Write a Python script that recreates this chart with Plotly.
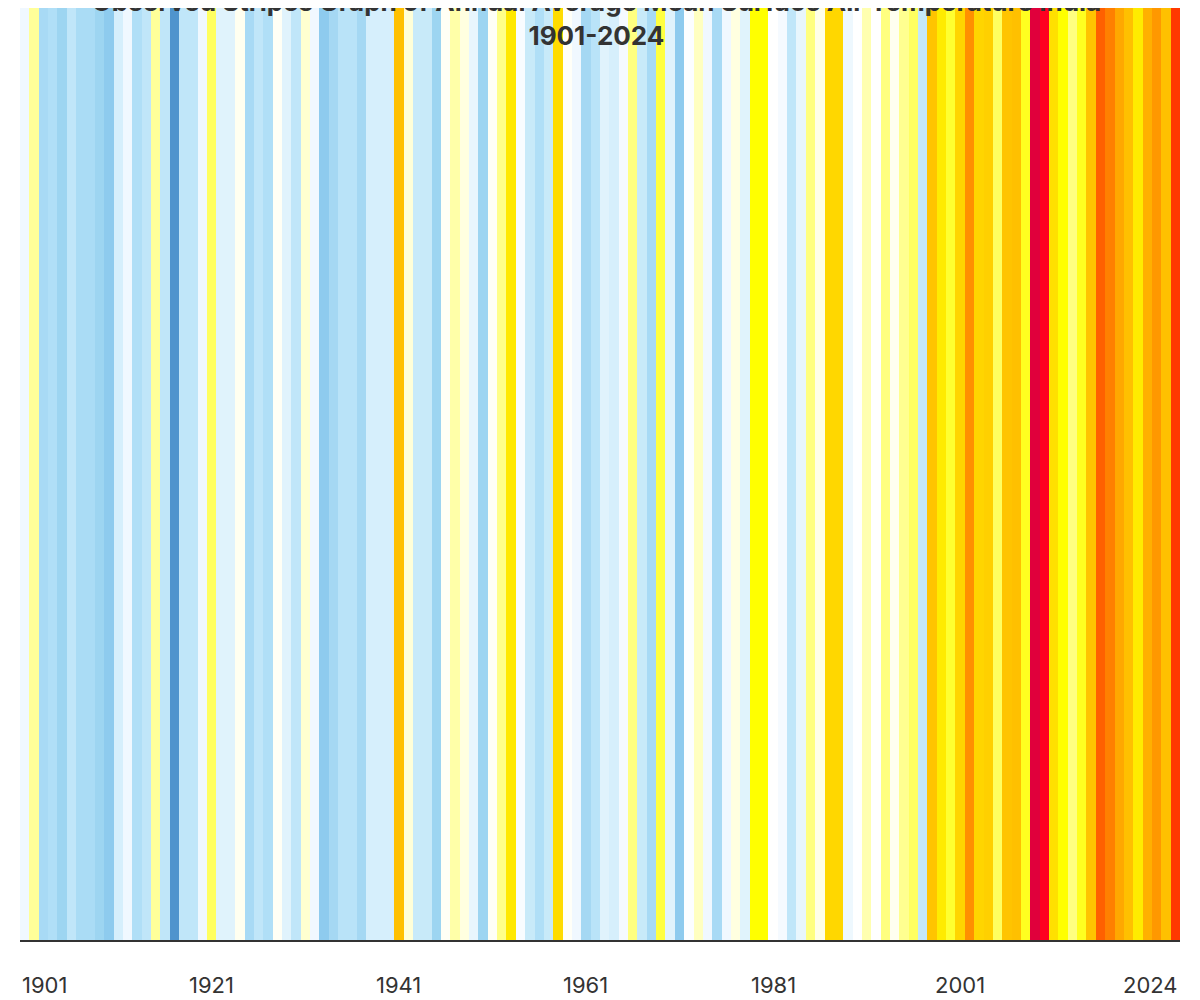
import plotly.graph_objects as go

# colour of each annual stripe, 1901-2024
years = list(range(1901, 2025))
stripe_colors = [
    # 1901-1931
    "#f0f8ff", "#ffff99", "#a8daf5", "#b0dff7", "#9dd5f1", "#c0e6f9", "#aadcf5", "#aadcf5",
    "#9dd5f1", "#8ecbee", "#d6effc", "#f0f8ff", "#b0dff7", "#c0e6f9", "#ffff99", "#c0e6f9",
    "#4f94cd", "#c0e6f9", "#c0e6f9", "#f0f8ff", "#ffff60", "#e0f3fc", "#e0f3fc", "#fffff0",
    "#a8daf5", "#c0e6f9", "#b0dff7", "#fffff5", "#e0f3fc", "#c0e6f9", "#ffffd0",
    # 1932-1962
    "#f0f8ff", "#8ecbee", "#a5d8f3", "#b9e3f8", "#b9e3f8", "#a5d8f3", "#d6effc", "#d6effc",
    "#d6effc", "#ffc000", "#ffffd8", "#c8eaf9", "#c8eaf9", "#9dd5f1", "#fffff5", "#ffffa8",
    "#ffffe0", "#e8f6fd", "#9dd5f1", "#fffff5", "#ffff88", "#ffe800", "#f8fcff", "#c8eaf9",
    "#b0dff7", "#c8eaf9", "#ffdc00", "#fffff8", "#f0f8ff", "#a5d8f3", "#b9e3f8",
    # 1963-1993
    "#e0f3fc", "#d6effc", "#f5faff", "#ffff80", "#c8eaf9", "#a8daf5", "#ffff40", "#e0f3fc",
    "#8ecbee", "#fcfeff", "#ffffc0", "#f0f8ff", "#a8daf5", "#f0f8ff", "#ffffe0", "#e0f3fc",
    "#ffff00", "#ffff00", "#ffffff", "#f5faff", "#c0e6f9", "#e8f6fd", "#ffff80", "#ffffe8",
    "#ffd700", "#ffd700", "#eef8fe", "#ffffff", "#ffffb0", "#ffffff", "#ffff80",
    # 1994-2024
    "#fffff0", "#ffff90", "#ffff60", "#c4e8f9", "#ffc400", "#ffeb00", "#ffff30", "#ffd500",
    "#ff9000", "#ffd500", "#ffd000", "#ffff60", "#ffc400", "#ffc000", "#ffff20", "#e0003c",
    "#ff0020", "#ffe000", "#ffff00", "#ffff80", "#ffff20", "#ffc400", "#ff6000", "#ff8000",
    "#ffa800", "#ffc000", "#ffeb00", "#ffb000", "#ff9800", "#ffc000", "#ff3800",
]
tick_years = [1901, 1921, 1941, 1961, 1981, 2001, 2024]

fig = go.Figure(go.Bar(
    x=years,
    y=[1] * len(years),
    width=1,
    marker=dict(color=stripe_colors, line=dict(width=0)),
    hovertemplate="%{x}<extra></extra>",
))

for yr in tick_years:
    anchor = "left" if yr == years[0] else ("right" if yr == years[-1] else "center")
    xpos = yr - 0.5 if yr == years[0] else (yr + 0.5 if yr == years[-1] else yr)
    fig.add_annotation(x=xpos, y=0, yref="paper", yshift=-45, xanchor=anchor,
                       yanchor="middle", showarrow=False, text=str(yr),
                       font=dict(size=22, color="#333333"))

fig.update_layout(
    width=1184, height=990,
    margin=dict(l=12, r=12, t=0, b=58),
    paper_bgcolor="white", plot_bgcolor="white",
    bargap=0,
    showlegend=False,
    font=dict(family="Inter, Roboto, sans-serif"),
    title=dict(
        text="<b>Observed Stripes Graph of Annual Average Mean Surface Air Temperature India<br>1901-2024</b>",
        x=0.497, xanchor="center", y=0.997, yanchor="top",
        font=dict(size=26, color="#333333"),
    ),
    xaxis=dict(range=[years[0] - 0.5, years[-1] + 0.5], showticklabels=False,
               showgrid=False, zeroline=False, showline=True, linecolor="#333333",
               linewidth=2, ticks=""),
    yaxis=dict(range=[0, 1], visible=False, showgrid=False),
)

fig.write_html("out.html")
